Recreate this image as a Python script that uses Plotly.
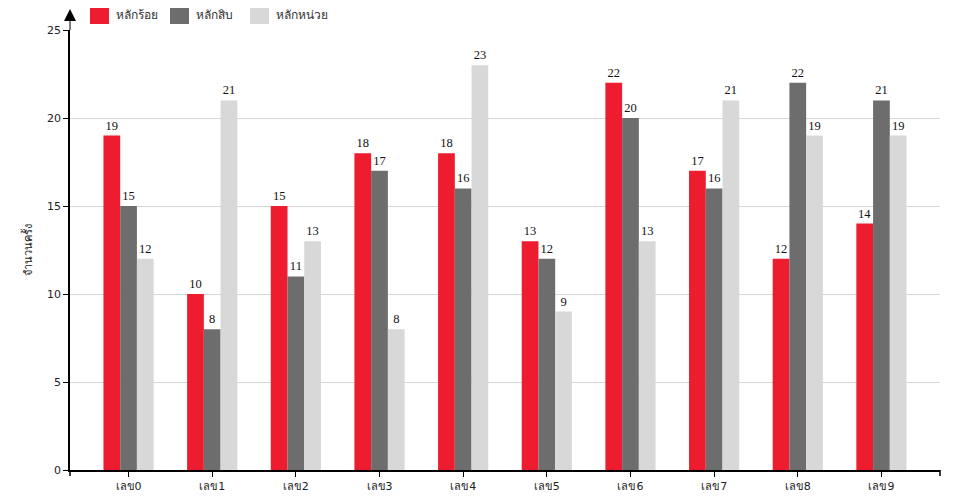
import plotly.graph_objects as go

categories = ["เลข0", "เลข1", "เลข2", "เลข3", "เลข4", "เลข5", "เลข6", "เลข7", "เลข8", "เลข9"]
series_names = ["หลักร้อย", "หลักสิบ", "หลักหน่วย"]
hundreds = [19, 10, 15, 18, 18, 13, 22, 17, 12, 14]
tens = [15, 8, 11, 17, 16, 12, 20, 16, 22, 21]
units = [12, 21, 13, 8, 23, 9, 13, 21, 19, 19]
y_title = "จำนวนครั้ง"
y_ticks = [0, 5, 10, 15, 20, 25]

colors = ["#ED1C2E", "#6D6D6D", "#D8D8D8"]
values = [hundreds, tens, units]

fig = go.Figure()
for name, vals, c in zip(series_names, values, colors):
    fig.add_trace(go.Bar(
        x=categories, y=vals, name=name, marker=dict(color=c, line=dict(width=0)),
        text=[str(v) for v in vals], textposition="outside", cliponaxis=False,
        outsidetextfont=dict(family="Liberation Serif", size=12.5, color="#111"),
        textfont=dict(family="Liberation Serif", size=12.5, color="#111"),
        showlegend=False,
    ))

# page has an 8px body margin; plot area on screen spans x 70..940, y 30..470
OFF = 8
W, H = 960 - OFF, 500 - OFF
L, T = 70 - OFF, 30 - OFF
R = W - L - 870
B = H - T - 440
pw, ph = 870, 440

def px(x):
    return (x - 70) / pw

def py(y):
    return (470 - y) / ph

shapes = []
annotations = []
leg_x = [90, 170, 250]
for name, c, lx in zip(series_names, colors, leg_x):
    shapes.append(dict(type="rect", xref="paper", yref="paper",
                       x0=px(lx), x1=px(lx + 19), y0=py(24), y1=py(5),
                       fillcolor=c, line=dict(width=0)))
    annotations.append(dict(xref="paper", yref="paper", x=px(lx + 24), y=py(14.5),
                            text=name, showarrow=False, xanchor="left", yanchor="middle",
                            font=dict(family="DejaVu Sans, sans-serif", size=12, color="#333")))

annotations.append(dict(xref="paper", yref="paper", x=px(27), y=py(250), text=y_title,
                        textangle=-90, showarrow=False, xanchor="center", yanchor="middle",
                        font=dict(family="DejaVu Sans, sans-serif", size=11, color="#222")))

# y-axis extension with arrow
shapes.append(dict(type="line", xref="paper", yref="paper", x0=0, x1=0, y0=1, y1=py(20),
                   line=dict(color="#555", width=1.5)))
shapes.append(dict(type="path", xref="paper", yref="paper", xsizemode="pixel", ysizemode="pixel",
                   xanchor=0, yanchor=1, path="M -6 9 L 6 9 L 0 21 Z",
                   fillcolor="black", line=dict(width=0)))
# end ticks of the x axis
for xa in (0, 1):
    shapes.append(dict(type="line", xref="paper", yref="paper", xsizemode="pixel", ysizemode="pixel",
                       xanchor=xa, yanchor=0, x0=0, x1=0, y0=0, y1=-6,
                       line=dict(color="black", width=1.5)))

fig.update_layout(
    width=W, height=H,
    margin=dict(l=L, r=R, t=T, b=B, autoexpand=False),
    plot_bgcolor="white", paper_bgcolor="white",
    barmode="group", bargap=0.4, bargroupgap=0,
    font=dict(family="DejaVu Sans, sans-serif", size=11, color="#222"),
    shapes=shapes, annotations=annotations,
    xaxis=dict(range=[-0.7, 9.7], showline=True, linecolor="black", linewidth=1.5,
               ticks="outside", ticklen=5, tickcolor="black", showgrid=False,
               tickfont=dict(size=11), automargin=False),
    yaxis=dict(range=[0, 25], tickvals=y_ticks, showline=True, linecolor="black", linewidth=1.5,
               ticks="outside", ticklen=5, tickcolor="black", showgrid=True, gridcolor="#D6D6D6",
               zeroline=False, tickfont=dict(size=11), automargin=False),
)

fig.write_html("out.html")
